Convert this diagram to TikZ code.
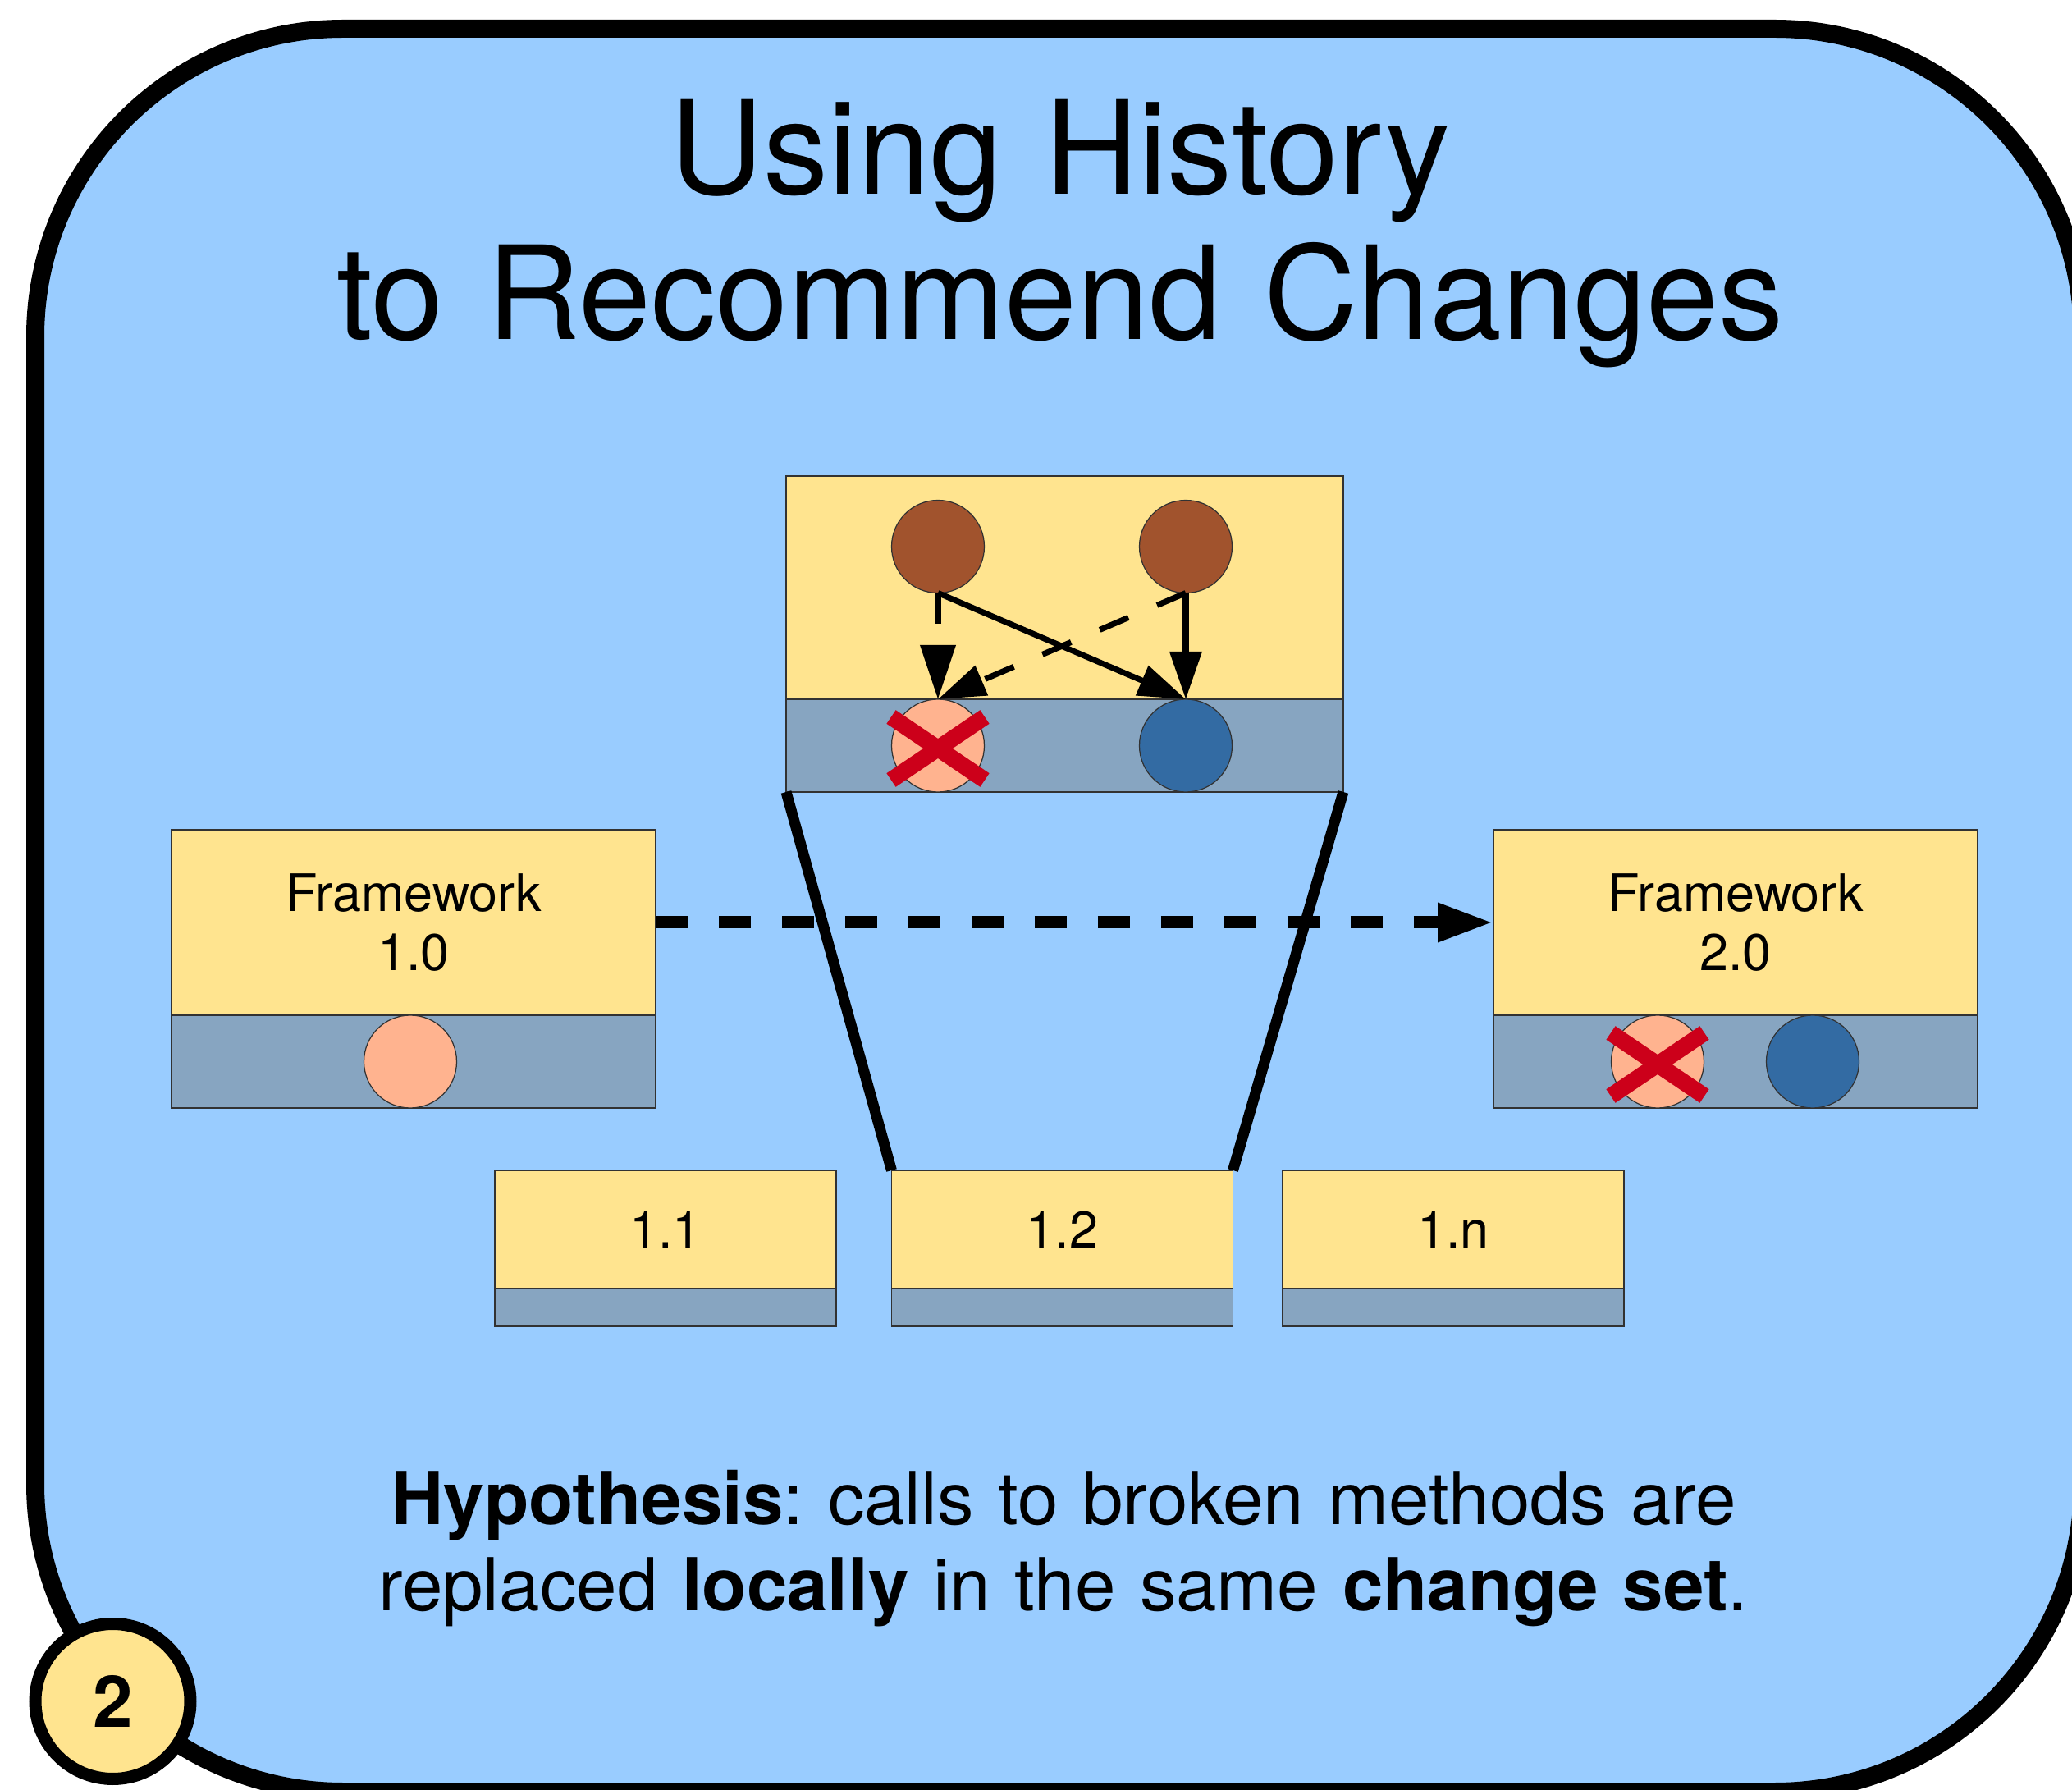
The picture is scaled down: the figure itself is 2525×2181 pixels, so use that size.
\documentclass[tikz,border=0pt]{standalone}
\usepackage{fontspec}
\setmainfont{TeX Gyre Heros}
\usetikzlibrary{arrows.meta}
\frenchspacing
\definecolor{bgblue}{RGB}{153,204,255}
\definecolor{ycol}{RGB}{255,228,143}
\definecolor{gcol}{RGB}{135,165,193}
\definecolor{brn}{RGB}{161,83,45}
\definecolor{pnk}{RGB}{255,179,143}
\definecolor{dblue}{RGB}{51,107,163}
\definecolor{xred}{RGB}{204,0,26}
\definecolor{edgecol}{RGB}{50,50,50}
\newcommand{\fwfont}{\fontsize{17.9pt}{20.5pt}\selectfont}
\newcommand{\ttlfont}{\fontsize{45pt}{50.1pt}\selectfont}
\newcommand{\hypfont}{\fontsize{25.3pt}{29.9pt}\selectfont}
\begin{document}
\begin{tikzpicture}[x=0.1mm, y=-0.1mm,
  ybox/.style={rectangle, fill=ycol, draw=edgecol, line width=0.35pt, inner sep=0pt, outer sep=0pt, align=center, font=\fwfont},
  gbox/.style={rectangle, fill=gcol, draw=edgecol, line width=0.35pt, inner sep=0pt, outer sep=0pt, anchor=north},
  dot/.style={circle, draw=edgecol, line width=0.35pt, minimum size=11.3mm, inner sep=0pt, outer sep=0pt},
  cross/.style={draw=xred, line width=2mm},
  conn/.style={line width=2pt, -{Triangle[length=5.8mm,width=3.8mm]}},
  bigconn/.style={line width=2pt, -{Triangle[length=6.6mm,width=4.2mm]}},
  dsh/.style={dash pattern=on 3.8mm off 3.8mm},
  mainarrow/.style={line width=1.5mm, dash pattern=on 3.9mm off 3.8mm, -{Triangle[length=6.8mm,width=4.4mm]}},
  funnel/.style={line width=1.3mm},
  txt/.style={inner sep=0pt, outer sep=0pt, anchor=base, text width=230mm, align=center}
]
\useasboundingbox (0,0) rectangle (2525,2181);
\fill[white] (0,0) rectangle (2525,2181);
\begin{scope}
  \clip (0,0) rectangle (2525,2181);
  \draw[line width=2.2mm, fill=bgblue, rounded corners=37.5mm] (43,35) rectangle (2538,2183);
\end{scope}

% title
\node[txt, font=\ttlfont] (title) at (1292,237) {Using History\\to Recommend Changes};

% top box
\node[ybox, minimum width=67.9mm, minimum height=27.2mm] (ty) at (1297.5,716) {};
\node[gbox, minimum width=67.9mm, minimum height=11.3mm] (tg) at (ty.south) {};
\node[dot, fill=brn] (b1) at (1143,666) {};
\node[dot, fill=brn] (b2) at (1445,666) {};
\node[dot, fill=pnk] (p1) at (1143,908.5) {};
\node[dot, fill=dblue] (d1) at (1445,908.5) {};
\draw[cross] (p1) ++(-57,-35) -- ++(114,77);
\draw[cross] (p1) ++(57,-35) -- ++(-114,77);
\draw[bigconn, dsh] (b1.south) -- (p1.north);
\draw[conn] (b1.south) -- (d1.north);
\draw[conn] (b2.south) -- (d1.north);
\draw[conn, dsh] (b2.south) -- (p1.north);

% framework 1.0
\node[ybox, minimum width=59mm, minimum height=22.6mm] (f1y) at (504,1124) {Framework\\1.0};
\node[gbox, minimum width=59mm, minimum height=11.3mm] (f1g) at (f1y.south) {};
\node[dot, fill=pnk] (p0) at (500,1293.5) {};

% framework 2.0
\node[ybox, minimum width=59mm, minimum height=22.6mm] (f2y) at (2115,1124) {Framework\\2.0};
\node[gbox, minimum width=59mm, minimum height=11.3mm] (f2g) at (f2y.south) {};
\node[dot, fill=pnk] (p2) at (2020,1293.5) {};
\node[dot, fill=dblue] (d2) at (2209,1293.5) {};
\draw[cross] (p2) ++(-57,-35) -- ++(114,77);
\draw[cross] (p2) ++(57,-35) -- ++(-114,77);

% versions
\node[ybox, minimum width=41.6mm, minimum height=14.4mm] (v1y) at (811,1498) {1.1};
\node[gbox, minimum width=41.6mm, minimum height=4.6mm] (v1g) at (v1y.south) {};
\node[ybox, minimum width=41.6mm, minimum height=14.4mm] (v2y) at (1294.5,1498) {1.2};
\node[gbox, minimum width=41.6mm, minimum height=4.6mm] (v2g) at (v2y.south) {};
\node[ybox, minimum width=41.6mm, minimum height=14.4mm] (vny) at (1771,1498) {1.n};
\node[gbox, minimum width=41.6mm, minimum height=4.6mm] (vng) at (vny.south) {};

% main dashed arrow
\draw[mainarrow] (f1y.east) -- (f2y.west);

% funnel
\draw[funnel] (tg.south west) -- (v2y.north west);
\draw[funnel] (tg.south east) -- (v2y.north east);

% hypothesis
\node[txt, font=\hypfont] (hyp) at (1296,1857) {\textbf{Hypothesis}: calls to broken methods are\\replaced \textbf{locally} in the same \textbf{change set}.};

% badge
\node[circle, fill=ycol, draw=black, line width=1.5mm, minimum size=18.9mm, inner sep=0pt, font=\bfseries\fontsize{24.8pt}{28pt}\selectfont] (badge) at (137.5,2073) {2};
\end{tikzpicture}
\end{document}
